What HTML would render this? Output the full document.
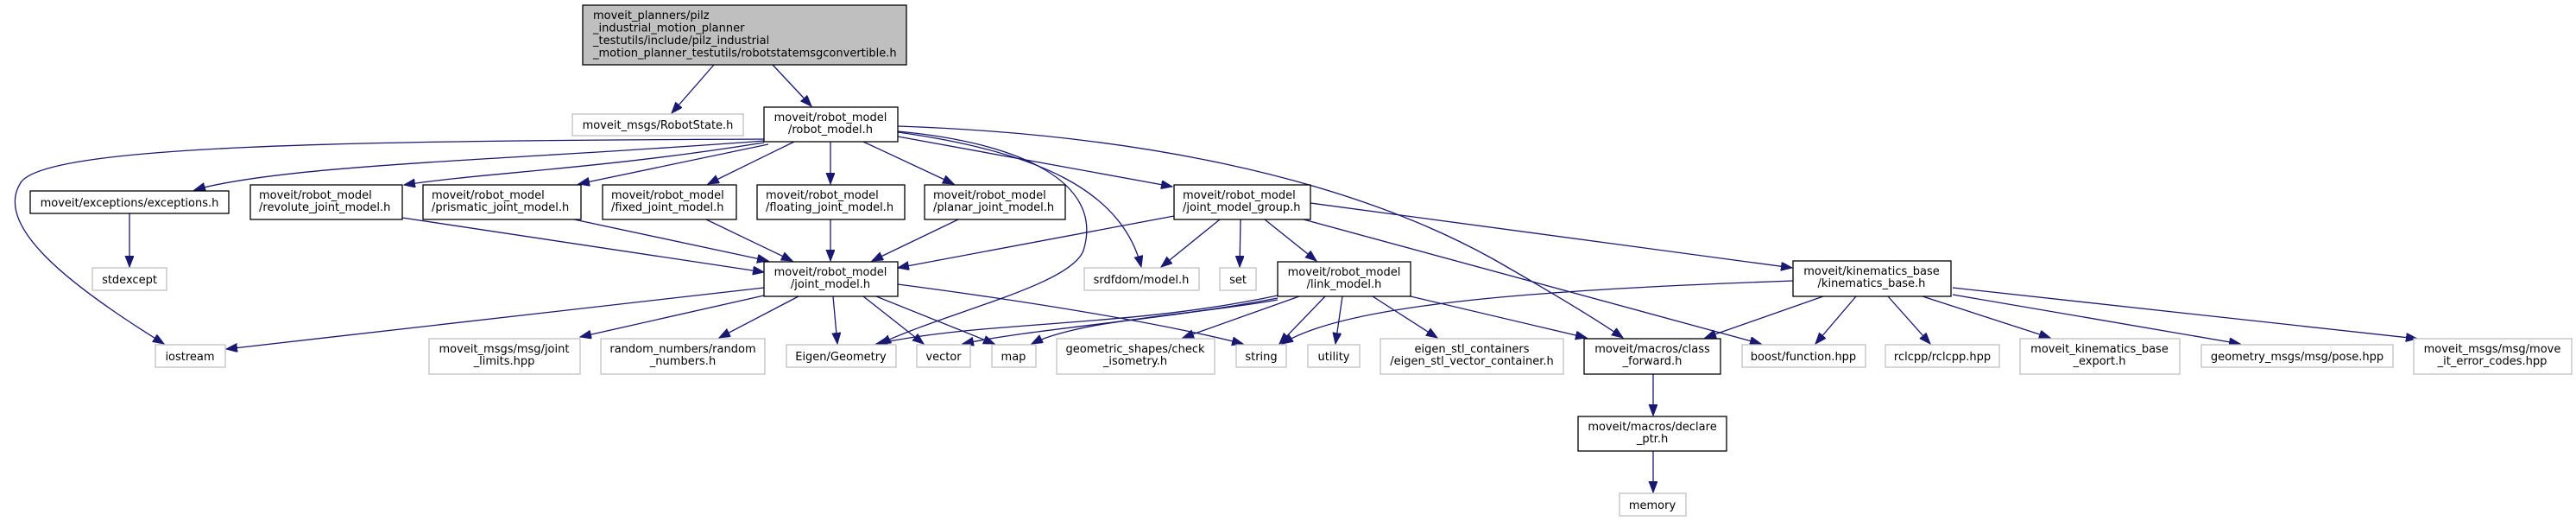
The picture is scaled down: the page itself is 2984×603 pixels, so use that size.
<!DOCTYPE html>
<html><head><meta charset="utf-8"><style>
html,body{margin:0;padding:0;background:#fff;}
svg{display:block;}
text{font-family:"DejaVu Sans","Liberation Sans",sans-serif;font-size:13px;fill:#000;}
.e{fill:none;stroke:#191970;stroke-width:1.3;}
.b{fill:#fff;stroke:#000;stroke-width:1.3;}
.g{fill:#fff;stroke:#bfbfbf;stroke-width:1.3;}
</style></head><body>
<svg width="2984" height="603" viewBox="0 0 2984 603" xmlns="http://www.w3.org/2000/svg">
<defs><marker id="a" markerUnits="userSpaceOnUse" markerWidth="14" markerHeight="12" refX="13" refY="5" orient="auto"><path d="M0,0 L13,5 L0,10 Z" fill="#191970" stroke="#191970"/></marker></defs>
<g marker-end="url(#a)">
<path class="e" d="M827,75 L778,131"/>
<path class="e" d="M895,75 L940,123"/>
<path class="e" d="M885,161 C400,163 60,168 25,210 C-10,260 80,330 190,398"/>
<path class="e" d="M885,163 C600,185 330,190 225,220"/>
<path class="e" d="M885,165 C700,195 560,200 468,214"/>
<path class="e" d="M890,167 L670,213"/>
<path class="e" d="M920,164 L820,213"/>
<path class="e" d="M962,164 L962,213"/>
<path class="e" d="M1000,164 L1105,213"/>
<path class="e" d="M1040,158 L1358,216"/>
<path class="e" d="M1040,153 C1200,175 1300,220 1322,309"/>
<path class="e" d="M1040,152 C1180,165 1280,210 1255,290 C1240,330 1100,360 1019,398"/>
<path class="e" d="M1040,146 C1300,155 1550,200 1730,300 C1800,340 1850,370 1880,391"/>
<path class="e" d="M150,247 L150,309"/>
<path class="e" d="M466,252 L885,315"/>
<path class="e" d="M665,254 L890,302"/>
<path class="e" d="M818,254 L918,302"/>
<path class="e" d="M962,254 L962,302"/>
<path class="e" d="M1110,254 L1010,302"/>
<path class="e" d="M1360,250 L1040,310"/>
<path class="e" d="M885,333 L262,404"/>
<path class="e" d="M885,342 L672,390"/>
<path class="e" d="M925,343 L833,391"/>
<path class="e" d="M965,343 L970,398"/>
<path class="e" d="M1000,343 L1070,398"/>
<path class="e" d="M1015,343 L1152,398"/>
<path class="e" d="M1040,329 C1200,350 1350,375 1440,398"/>
<path class="e" d="M1413,254 L1345,309"/>
<path class="e" d="M1437,254 L1436,309"/>
<path class="e" d="M1465,254 L1525,302"/>
<path class="e" d="M1510,254 L2040,398"/>
<path class="e" d="M1518,235 L2076,310"/>
<path class="e" d="M1480,342 C1300,380 1150,370 1015,398"/>
<path class="e" d="M1480,345 C1350,370 1200,380 1115,398"/>
<path class="e" d="M1480,347 C1380,365 1250,370 1195,398"/>
<path class="e" d="M1505,343 L1370,391"/>
<path class="e" d="M1535,343 L1482,398"/>
<path class="e" d="M1555,343 L1547,398"/>
<path class="e" d="M1590,343 L1665,391"/>
<path class="e" d="M1634,343 L1838,391"/>
<path class="e" d="M2077,325 C1800,335 1560,350 1485,398"/>
<path class="e" d="M2112,343 L1975,391"/>
<path class="e" d="M2150,343 L2103,398"/>
<path class="e" d="M2187,343 L2236,398"/>
<path class="e" d="M2227,343 L2375,391"/>
<path class="e" d="M2262,341 L2595,398"/>
<path class="e" d="M2262,333 C2500,360 2700,380 2800,392"/>
<path class="e" d="M1915,433 L1915,481"/>
<path class="e" d="M1915,522 L1915,570"/>
</g>

<rect x="675" y="6" width="375" height="69" fill="#bfbfbf" stroke="#000" stroke-width="1.3"/>
<text x="687" y="22">moveit_planners/pilz</text>
<text x="687" y="36.5">_industrial_motion_planner</text>
<text x="687" y="51">_testutils/include/pilz_industrial</text>
<text x="687" y="65.5">_motion_planner_testutils/robotstatemsgconvertible.h</text>

<g text-anchor="middle">
<rect class="g" x="663" y="132" width="198" height="25"/><text x="762" y="149">moveit_msgs/RobotState.h</text>
<rect class="b" x="885" y="124" width="155" height="40"/><text x="962" y="140">moveit/robot_model</text><text x="962" y="154">/robot_model.h</text>
<rect class="b" x="35" y="221" width="230" height="26"/><text x="150" y="239">moveit/exceptions/exceptions.h</text>
<rect class="g" x="107" y="310" width="86" height="26"/><text x="150" y="328">stdexcept</text>
<rect class="g" x="180" y="399" width="81" height="26"/><text x="220" y="417">iostream</text>
<rect class="b" x="885" y="303" width="155" height="40"/><text x="962" y="319">moveit/robot_model</text><text x="962" y="333">/joint_model.h</text>
<rect class="g" x="497" y="392" width="175" height="41"/><text x="584" y="408">moveit_msgs/msg/joint</text><text x="584" y="422">_limits.hpp</text>
<rect class="g" x="696" y="392" width="190" height="41"/><text x="791" y="408">random_numbers/random</text><text x="791" y="422">_numbers.h</text>
<rect class="g" x="911" y="399" width="127" height="26"/><text x="974" y="417">Eigen/Geometry</text>
<rect class="g" x="1062" y="399" width="62" height="26"/><text x="1093" y="417">vector</text>
<rect class="g" x="1149" y="399" width="51" height="26"/><text x="1174" y="417">map</text>
<rect class="g" x="1224" y="392" width="183" height="41"/><text x="1315" y="408">geometric_shapes/check</text><text x="1315" y="422">_isometry.h</text>
<rect class="g" x="1432" y="399" width="58" height="26"/><text x="1461" y="417">string</text>
<rect class="g" x="1515" y="399" width="60" height="26"/><text x="1545" y="417">utility</text>
<rect class="g" x="1599" y="392" width="212" height="41"/><text x="1705" y="408">eigen_stl_containers</text><text x="1705" y="422">/eigen_stl_vector_container.h</text>
<rect class="g" x="1256" y="310" width="133" height="26"/><text x="1322" y="328">srdfdom/model.h</text>
<rect class="g" x="1413" y="310" width="42" height="26"/><text x="1434" y="328">set</text>
<rect class="b" x="1480" y="303" width="154" height="40"/><text x="1557" y="319">moveit/robot_model</text><text x="1557" y="333">/link_model.h</text>
<rect class="b" x="1835" y="392" width="158" height="41"/><text x="1914" y="408">moveit/macros/class</text><text x="1914" y="422">_forward.h</text>
<rect class="b" x="1828" y="482" width="172" height="40"/><text x="1914" y="498">moveit/macros/declare</text><text x="1914" y="512">_ptr.h</text>
<rect class="g" x="1876" y="571" width="77" height="26"/><text x="1914" y="589">memory</text>
<rect class="b" x="2077" y="302" width="183" height="41"/><text x="2168" y="318">moveit/kinematics_base</text><text x="2168" y="332">/kinematics_base.h</text>
<rect class="g" x="2018" y="399" width="143" height="26"/><text x="2089" y="417">boost/function.hpp</text>
<rect class="g" x="2184" y="399" width="132" height="26"/><text x="2250" y="417">rclcpp/rclcpp.hpp</text>
<rect class="g" x="2340" y="392" width="185" height="41"/><text x="2432" y="408">moveit_kinematics_base</text><text x="2432" y="422">_export.h</text>
<rect class="g" x="2550" y="399" width="222" height="26"/><text x="2661" y="417">geometry_msgs/msg/pose.hpp</text>
<rect class="g" x="2796" y="392" width="183" height="41"/><text x="2887" y="408">moveit_msgs/msg/move</text><text x="2887" y="422">_it_error_codes.hpp</text>
</g>
<g>
<rect class="b" x="290" y="214" width="176" height="40"/><text x="300" y="230">moveit/robot_model</text><text x="300" y="244">/revolute_joint_model.h</text>
<rect class="b" x="490" y="214" width="183" height="40"/><text x="500" y="230">moveit/robot_model</text><text x="500" y="244">/prismatic_joint_model.h</text>
<rect class="b" x="698" y="214" width="155" height="40"/><text x="708" y="230">moveit/robot_model</text><text x="708" y="244">/fixed_joint_model.h</text>
<rect class="b" x="877" y="214" width="171" height="40"/><text x="887" y="230">moveit/robot_model</text><text x="887" y="244">/floating_joint_model.h</text>
<rect class="b" x="1071" y="214" width="163" height="40"/><text x="1081" y="230">moveit/robot_model</text><text x="1081" y="244">/planar_joint_model.h</text>
<rect class="b" x="1360" y="214" width="158" height="40"/><text x="1370" y="230">moveit/robot_model</text><text x="1370" y="244">/joint_model_group.h</text>
</g>
</svg>
</body></html>
